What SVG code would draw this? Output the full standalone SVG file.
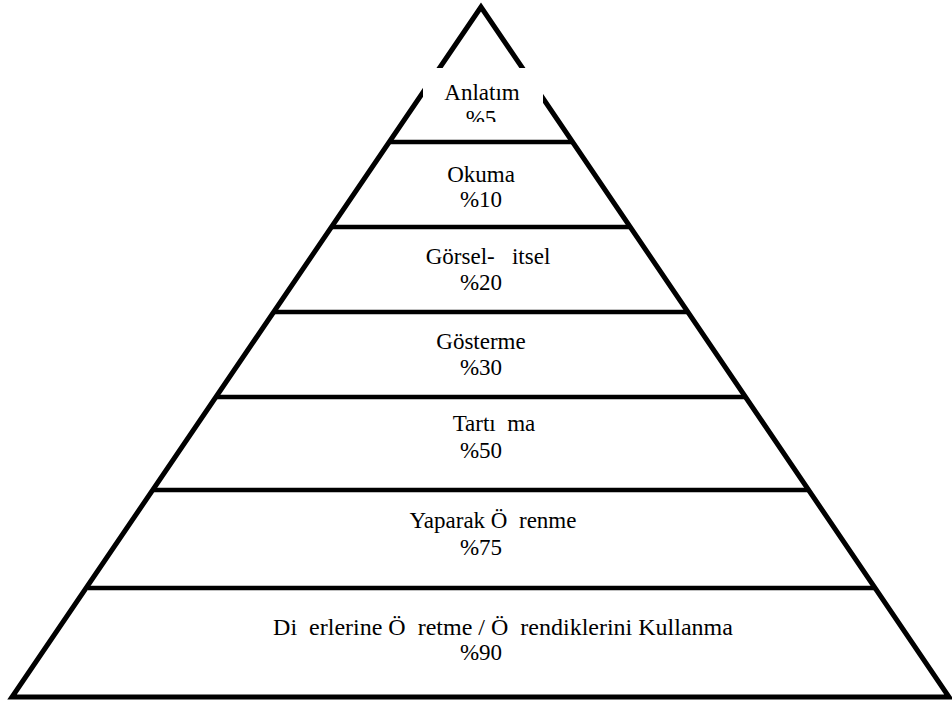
<svg xmlns="http://www.w3.org/2000/svg" width="952" height="702" viewBox="0 0 952 702">
  <style>
    .edge { fill: none; stroke: #000; stroke-width: 5; stroke-linejoin: miter; }
    .tier { stroke: #000; stroke-width: 4.5; }
    .lbl { font-size: 23px; fill: #000; text-anchor: middle; white-space: pre; }
    .wide { font-size: 24px; }
  </style>
  <defs>
    <clipPath id="topClip">
      <rect x="423" y="68" width="120" height="54"/>
    </clipPath>
  </defs>
  <rect width="952" height="702" fill="#fff"/>

  <!-- pyramid outline -->
  <g id="outline">
    <polygon class="edge" points="481,7 12,697 949,697"/>
  </g>

  <!-- tier separators -->
  <g id="connectors">
    <line class="tier" x1="389" y1="142" x2="573" y2="142"/>
    <line class="tier" x1="332" y1="227" x2="630" y2="227"/>
    <line class="tier" x1="274" y1="312" x2="688" y2="312"/>
    <line class="tier" x1="217" y1="397" x2="745" y2="397"/>
    <line class="tier" x1="154" y1="490" x2="808" y2="490"/>
    <line class="tier" x1="88" y1="588" x2="874" y2="588"/>
  </g>

  <!-- tier labels -->
  <g id="labels" font-family="'Liberation Serif', 'Times New Roman', serif">
    <g id="tier-anlatim">
      <rect x="423" y="68" width="120" height="54" fill="#fff"/>
      <g clip-path="url(#topClip)">
        <text class="lbl" x="482" y="100">Anlatım</text>
        <text class="lbl" x="481" y="126">%5</text>
      </g>
    </g>
    <g id="tier-okuma">
      <text class="lbl" x="481" y="182">Okuma</text>
      <text class="lbl" x="481" y="207">%10</text>
    </g>
    <g id="tier-gorsel">
      <text class="lbl" x="488" y="264">Görsel-   itsel</text>
      <text class="lbl" x="481" y="290">%20</text>
    </g>
    <g id="tier-gosterme">
      <text class="lbl" x="481" y="349">Gösterme</text>
      <text class="lbl" x="481" y="375">%30</text>
    </g>
    <g id="tier-tartisma">
      <text class="lbl" x="494" y="431">Tartı  ma</text>
      <text class="lbl" x="481" y="458">%50</text>
    </g>
    <g id="tier-yaparak">
      <text class="lbl" x="493" y="528">Yaparak Ö  renme</text>
      <text class="lbl" x="481" y="555">%75</text>
    </g>
    <g id="tier-digerlerine">
      <text class="lbl wide" x="503" y="635">Di  erlerine Ö  retme / Ö  rendiklerini Kullanma</text>
      <text class="lbl" x="481" y="660">%90</text>
    </g>
  </g>
</svg>
